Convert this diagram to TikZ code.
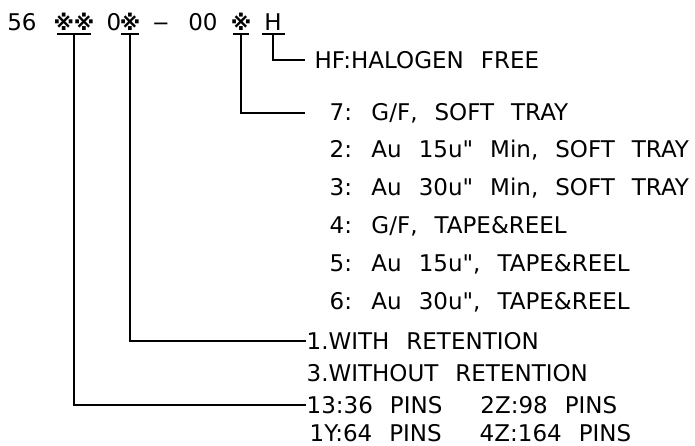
\documentclass[tikz,border=0pt]{standalone}
\usepackage{fontspec}
\setmainfont[Ligatures=TeXOff]{DejaVu Sans}
\newfontfamily\symfont{DejaVu Sans}
\newcommand\cadfont{\fontsize{23}{26}\selectfont\fontdimen2\font=17pt\relax}
\begin{document}
\begin{tikzpicture}[x=1pt,y=-1pt,line width=1.3pt,
  lbl/.style={anchor=west,inner sep=0pt,font=\cadfont},
  tok/.style={anchor=base,inner sep=0pt,font=\cadfont},
  dsh/.style={anchor=base,inner sep=0pt,font=\symfont\fontsize{21}{24}\selectfont},
  stk/.style={anchor=base,inner sep=0pt,font=\symfont\bfseries\fontsize{21}{24}\selectfont}]
\useasboundingbox (0,0) rectangle (695,446);
% part number tokens
\node[tok] (t56) at (22,31) {56};
\node[stk] (s1) at (74,30.5) {※※};
\node[tok] (t0) at (114,31) {0};
\node[stk] (s2) at (130,30.5) {※};
\node[dsh] (dash) at (161,31) {−};
\node[tok] (t00) at (203,31) {00};
\node[stk] (s3) at (241,30.5) {※};
\node[tok] (tH) at (273,31) {H};
% underline centres
\coordinate (u1) at (74,34);
\coordinate (u2) at (130,34);
\coordinate (u3) at (241,34);
\coordinate (u4) at (273,34);
\draw (57,34) -- (91,34);
\draw (121,34) -- (139,34);
\draw (233,34) -- (249,34);
\draw (262,34) -- (285,34);
% labels
\coordinate (c1) at (305,60);
\node[lbl] (hf) at (314,60) {HF:HALOGEN FREE};
\coordinate (c7) at (305,113);
\node[lbl] (o7) at (329,113) {7: G/F, SOFT TRAY};
\node[lbl] (o2) at (329,150.5) {2: Au 15u" Min, SOFT TRAY};
\node[lbl] (o3) at (329,188) {3: Au 30u" Min, SOFT TRAY};
\node[lbl] (o4) at (329,226) {4: G/F, TAPE\&REEL};
\node[lbl] (o5) at (329,264) {5: Au 15u", TAPE\&REEL};
\node[lbl] (o6) at (329,302) {6: Au 30u", TAPE\&REEL};
\node[lbl] (r1) at (306,341) {1.WITH RETENTION};
\node[lbl] (r3) at (306,373) {3.WITHOUT RETENTION};
\node[lbl] (p1) at (306,405) {13:36 PINS\hspace{38pt}2Z:98 PINS};
\node[lbl] (p2) at (309,433) {1Y:64 PINS\hspace{38pt}4Z:164 PINS};
% connectors
\draw (u4) |- (c1);
\draw (u3) |- (c7);
\draw (u2) |- (r1.west);
\draw (u1) |- (p1.west);
\end{tikzpicture}
\end{document}
